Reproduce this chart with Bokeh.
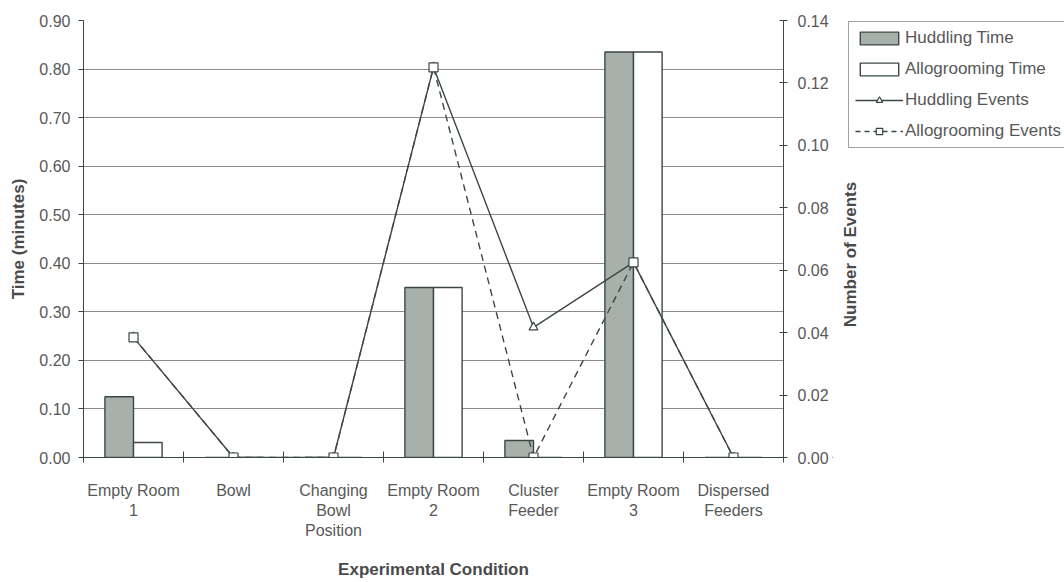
import math
from bokeh.plotting import figure
from bokeh.layouts import row
from bokeh.models import (Range1d, LinearAxis, FixedTicker, NumeralTickFormatter,
                          Legend, LegendItem, ColumnDataSource, Label)
from bokeh.embed import file_html
from bokeh.resources import INLINE

# ---- data ----
conditions = ["Empty Room\n1", "Bowl", "Changing\nBowl\nPosition", "Empty Room\n2",
              "Cluster\nFeeder", "Empty Room\n3", "Dispersed\nFeeders"]
huddling_time = [0.125, 0.0, 0.0, 0.35, 0.035, 0.835, 0.0]
allogrooming_time = [0.031, 0.0, 0.0, 0.35, 0.0, 0.835, 0.0]
huddling_events = [0.0385, 0.0, 0.0, 0.125, 0.0417, 0.0625, 0.0]
allogrooming_events = [0.0385, 0.0, 0.0, 0.125, 0.0, 0.0625, 0.0]
time_ticks = [0.0, 0.1, 0.2, 0.3, 0.4, 0.5, 0.6, 0.7, 0.8, 0.9]
event_ticks = [0.0, 0.02, 0.04, 0.06, 0.08, 0.10, 0.12, 0.14]
legend_labels = ["Huddling Time", "Allogrooming Time", "Huddling Events",
                 "Allogrooming Events"]
right_axis_title = "Number of Events"

n = len(conditions)
centers = [i + 0.5 for i in range(n)]
bar_w = 0.286
src = ColumnDataSource(dict(
    xc=centers,
    xh=[c - bar_w / 2 for c in centers],
    xa=[c + bar_w / 2 for c in centers],
    ht=huddling_time, at=allogrooming_time,
    he=huddling_events, ae=allogrooming_events,
))

FONT = "Liberation Sans"
TXT = "#585858"
DARK = "#3c4843"
BAR_FILL = "#a8b0ab"
LABEL_COL = "#4a4a4a"

p = figure(width=862, height=582, output_backend="svg", toolbar_location=None,
           x_range=Range1d(0, n), y_range=Range1d(0, 0.9),
           min_border_left=83, min_border_right=79, min_border_top=20,
           min_border_bottom=114)
p.outline_line_color = None
p.background_fill_color = "white"
p.extra_y_ranges = {"events": Range1d(0, 0.14)}

# bars
p.vbar(x="xh", top="ht", width=bar_w, source=src, fill_color=BAR_FILL,
       line_color=DARK, line_width=1.4)
p.vbar(x="xa", top="at", width=bar_w, source=src, fill_color="white",
       line_color=DARK, line_width=1.4)

# event lines
p.line(x="xc", y="he", source=src, y_range_name="events", line_color=DARK, line_width=1.4)
p.scatter(x="xc", y="he", source=src, y_range_name="events", marker="triangle",
          size=9, fill_color="white", line_color=DARK, line_width=1.2)
p.line(x="xc", y="ae", source=src, y_range_name="events", line_color=DARK,
       line_width=1.4, line_dash="7 5")
p.scatter(x="xc", y="ae", source=src, y_range_name="events", marker="square",
          size=9, fill_color="white", line_color=DARK, line_width=1.2)

# x axis
xa = p.xaxis[0]
xa.ticker = FixedTicker(ticks=centers, minor_ticks=list(range(n + 1)))
xa.major_label_overrides = {c: lab for c, lab in zip(centers, conditions)}
xa.major_tick_in = 0
xa.major_tick_out = 0
xa.minor_tick_line_color = DARK
xa.minor_tick_in = 6
xa.minor_tick_out = 5
xa.major_label_standoff = 19
xa.axis_label = "Experimental Condition"
xa.axis_label_standoff = 18

# left axis
ya = p.yaxis[0]
ya.ticker = FixedTicker(ticks=time_ticks)
ya.formatter = NumeralTickFormatter(format="0.00")
ya.major_tick_in = 0
ya.major_tick_out = 5
ya.minor_tick_line_color = None
ya.major_label_standoff = 8
ya.axis_label = "Time (minutes)"
ya.axis_label_standoff = 8

# right axis (its title is drawn in the neighbouring panel, reading upwards)
ra = LinearAxis(y_range_name="events", ticker=FixedTicker(ticks=event_ticks),
                formatter=NumeralTickFormatter(format="0.00"))
ra.major_tick_in = 4
ra.major_tick_out = 4
ra.minor_tick_line_color = None
ra.major_label_standoff = 10
p.add_layout(ra, "right")

for ax in (xa, ya, ra):
    ax.axis_line_color = DARK
    ax.axis_line_width = 1
    ax.major_tick_line_color = DARK if ax is not xa else None
    ax.major_label_text_font = FONT
    ax.major_label_text_font_size = "16px"
    ax.major_label_text_color = TXT
    ax.axis_label_text_font = FONT
    ax.axis_label_text_font_size = "17px"
    ax.axis_label_text_font_style = "bold"
    ax.axis_label_text_color = LABEL_COL

p.xgrid.grid_line_color = None
p.ygrid.ticker = FixedTicker(ticks=time_ticks)
p.ygrid.grid_line_color = "#8c8c8c"
p.ygrid.grid_line_width = 1

# ---- right panel: axis title + legend (separate figure, overlapping slightly) ----
p2 = figure(width=232, height=582, output_backend="svg", toolbar_location=None,
            x_range=Range1d(0, 1), y_range=Range1d(0, 1),
            x_axis_location=None, y_axis_location=None,
            min_border_left=0, min_border_right=0, min_border_top=0,
            min_border_bottom=0)
p2.margin = (0, 0, 0, -30)
p2.outline_line_color = None
p2.grid.visible = False
p2.background_fill_alpha = 0
p2.border_fill_alpha = 0

p2.add_layout(Label(x=18, y=203, x_units="screen", y_units="screen",
                    text=right_axis_title, angle=math.pi / 2,
                    text_align="center", text_baseline="middle",
                    text_font=FONT, text_font_size="17px", text_font_style="bold",
                    text_color=LABEL_COL))

# one off-screen sample per swatch renderer so that the legend can draw its glyphs
swatch = ColumnDataSource(dict(x=[-10.0], y=[-10.0]))
g1 = p2.vbar(x="x", top="y", width=0.1, source=swatch, fill_color=BAR_FILL,
             line_color=DARK, line_width=1.4)
g2 = p2.vbar(x="x", top="y", width=0.1, source=swatch, fill_color="white",
             line_color=DARK, line_width=1.4)
g3l = p2.line(x="x", y="y", source=swatch, line_color=DARK, line_width=1.4)
g3m = p2.scatter(x="x", y="y", source=swatch, marker="triangle", size=8,
                 fill_color="white", line_color=DARK, line_width=1.2)
g4l = p2.line(x="x", y="y", source=swatch, line_color=DARK, line_width=1.4,
              line_dash="5 4")
g4m = p2.scatter(x="x", y="y", source=swatch, marker="square", size=9,
                 fill_color="white", line_color=DARK, line_width=1.2)

legend = Legend(items=[
    LegendItem(label=legend_labels[0], renderers=[g1]),
    LegendItem(label=legend_labels[1], renderers=[g2]),
    LegendItem(label=legend_labels[2], renderers=[g3l, g3m]),
    LegendItem(label=legend_labels[3], renderers=[g4l, g4m]),
], location=(16, 309))
legend.border_line_color = DARK
legend.border_line_width = 1
legend.background_fill_color = "white"
legend.label_text_font = FONT
legend.label_text_font_size = "17px"
legend.label_text_color = TXT
legend.glyph_width = 48
legend.glyph_height = 16
legend.label_standoff = 2
legend.label_height = 20
legend.spacing = 11
legend.padding = 6
legend.margin = 0
p2.add_layout(legend, "center")

layout = row(p, p2)
open("out.html", "w").write(file_html(layout, INLINE))
